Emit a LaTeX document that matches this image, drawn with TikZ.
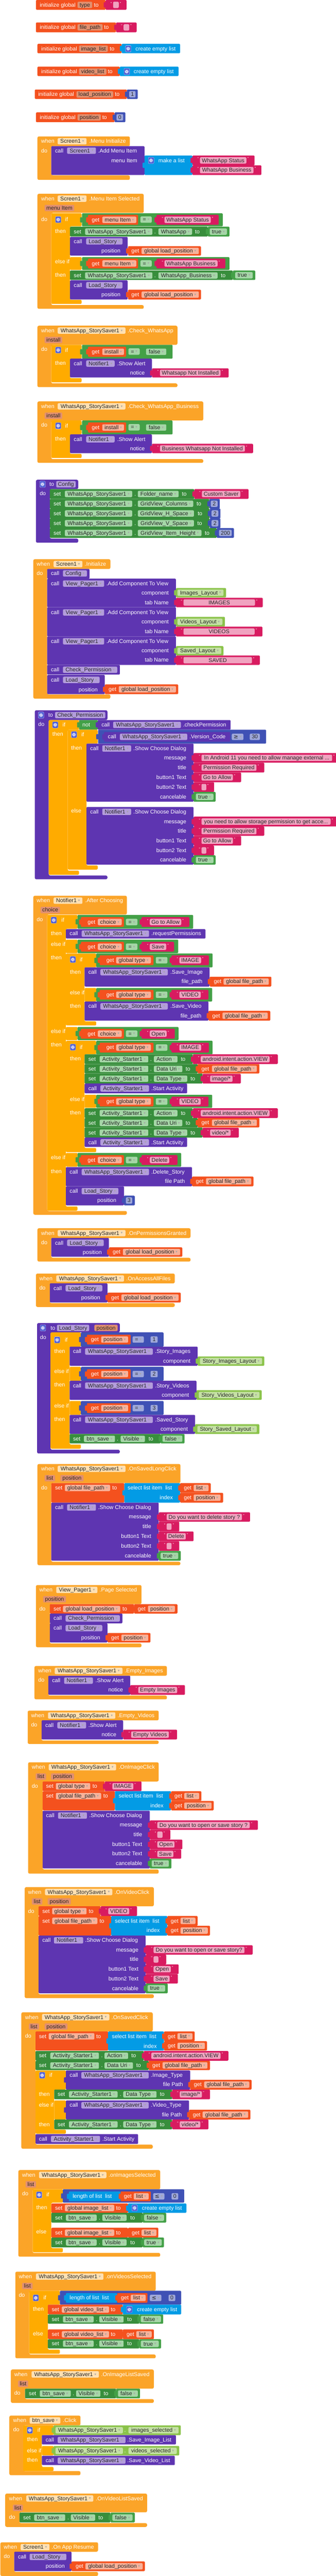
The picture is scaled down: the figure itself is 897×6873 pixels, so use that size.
\documentclass[tikz,border=0pt]{standalone}
\usepackage{fontspec}
\setmainfont{Liberation Sans}
\newfontfamily\symf{DejaVu Sans}
\definecolor{evt}{HTML}{FBA428}
\definecolor{ctl}{HTML}{FFAB00}
\definecolor{var}{HTML}{F4511E}
\definecolor{initchip}{HTML}{E2906F}
\definecolor{paramchip}{HTML}{E2906F}
\definecolor{getchip}{HTML}{F8B29A}
\definecolor{strc}{HTML}{D81B60}
\definecolor{strchip}{HTML}{F0A3C0}
\definecolor{lst}{HTML}{039BE5}
\definecolor{num}{HTML}{3F51B5}
\definecolor{numchip}{HTML}{9FA8DA}
\definecolor{proc}{HTML}{5E35B1}
\definecolor{procchip}{HTML}{B39DDB}
\definecolor{setg}{HTML}{388E3C}
\definecolor{setchip}{HTML}{A5D6A7}
\definecolor{logic}{HTML}{43A047}
\definecolor{logicchip}{HTML}{A5D6A7}
\definecolor{comp}{HTML}{8BC34A}
\definecolor{compchip}{HTML}{C5E1A5}
\definecolor{evchip}{HTML}{FFE0B2}
\definecolor{chiptext}{HTML}{262626}
\definecolor{gearc}{HTML}{4F5FD6}
\newcommand\fs{\fontsize{14.7}{17}\selectfont}
\newcounter{nd}
\tikzset{
 lab/.style={text=white,inner sep=0pt,font=\fs,text height=12pt,text depth=2pt},
 chipst/.style={rounded corners=3pt,inner sep=0pt,minimum height=17pt,text=chiptext,font=\fs,text height=12pt,text depth=2pt},
 qt/.style={text=white,inner sep=0pt,font=\fontsize{10}{10}\selectfont},
 gearst/.style={fill=gearc,draw=white!75!gearc,rounded corners=2pt,minimum width=15pt,minimum height=17pt,inner sep=0pt}
}
\newcommand\Dd{\hspace{4pt}\raisebox{3pt}{\symf\fontsize{6}{6}\selectfont\color{black!35}▼}}
\newcommand\Tx[3]{\stepcounter{nd}\node[lab,anchor=west] (t\arabic{nd}) at (#1,#2) {#3};}
\newcommand\Txr[3]{\stepcounter{nd}\node[lab,anchor=east] (t\arabic{nd}) at (#1,#2) {#3};}
\newcommand\Ch[5]{\stepcounter{nd}\node[chipst,fill=#5,minimum width={(#2-#1)*1pt},anchor=west] (c\arabic{nd}) at (#1,#3) {#4};}
\newcommand\Bk[5]{\fill[#5,rounded corners=2pt] (#1,#2) rectangle (#3,#4);}
\newcommand\Tb[3]{\fill[#3,rounded corners=1.5pt] (#1-5,#2-7) rectangle (#1+1,#2+7);}
\newcommand\Vb[5]{\pgfmathsetmacro\ymV{(#2+#4)/2}\Bk{#1}{#2}{#3}{#4}{#5}\Tb{#1}{\ymV}{#5}}
\newcommand\St[7]{\pgfmathsetmacro\ymS{(#2+#4)/2}\Vb{#1}{#2}{#3}{#4}{strc}\stepcounter{nd}\node[qt,anchor=east] (q\arabic{nd}) at (#5-3,\ymS-4) {“};\Ch{#5}{#6}{\ymS}{#7}{strchip}\stepcounter{nd}\node[qt,anchor=west] (q\arabic{nd}) at (#6+3,\ymS-4) {”};}
\newcommand\Gt[8]{\pgfmathsetmacro\ymG{(#2+#4)/2}\Vb{#1}{#2}{#3}{#4}{var}\Tx{#5}{\ymG}{get}\Ch{#6}{#7}{\ymG}{#8\Dd}{getchip}}
\newcommand\Nm[7]{\pgfmathsetmacro\ymN{(#2+#4)/2}\Vb{#1}{#2}{#3}{#4}{num}\Ch{#5}{#6}{\ymN}{#7}{numchip}}
\newcommand\Bl[7]{\pgfmathsetmacro\ymB{(#2+#4)/2}\Vb{#1}{#2}{#3}{#4}{logic}\Ch{#5}{#6}{\ymB}{#7\Dd}{logicchip}}
\newcommand\Cp[7]{\pgfmathsetmacro\ymC{(#2+#4)/2}\Vb{#1}{#2}{#3}{#4}{comp}\Ch{#5}{#6}{\ymC}{#7\Dd}{compchip}}
\newcommand\Gear[2]{\stepcounter{nd}\node[gearst,anchor=west] (g\arabic{nd}) at (#1,#2) {};\draw[white,line width=1.3pt] (#1+7.5,#2) circle (2.6pt);\draw[white,line width=1.6pt,dash pattern=on 1.2pt off 1.2pt] (#1+7.5,#2) circle (4.3pt);}
\newcommand\Ev[8]{\fill[#8,rounded corners=4pt] (#1,#4) -- (#3,#4) -- (#3,#5) -- (#2,#5) -- (#2,#6) -- (#3,#6) -- (#3,#7) -- (#1,#7) -- cycle;}
\newcommand\Cb[6]{\fill[ctl,rounded corners=3pt] (#1,#4) -- (#3,#4) -- (#3,#5) -- (#2,#5) -- (#2,#6-11) -- (#3,#6-11) -- (#3,#6) -- (#1,#6) -- cycle;}
\newcommand\WS{WhatsApp\_StorySaver1\Dd}
\newcommand\AS{Activity\_Starter1\Dd}
\begin{document}
\begin{tikzpicture}[x=1pt,y=-1pt]
\fill[white] (0,0) rectangle (897,6873);
\useasboundingbox (0,0) rectangle (897,6873);
% ---------- globals
\Bk{96}{0}{282}{26}{var}\Tx{106}{13}{initialize global}\Ch{207}{246}{13}{type}{initchip}\Tx{251}{13}{to}\St{282}{0}{338}{26}{302}{317}{}
\Bk{96}{60}{310}{86}{var}\Tx{106}{73}{initialize global}\Ch{207}{274}{73}{file\_path}{initchip}\Tx{278}{73}{to}\St{310}{60}{365}{86}{330}{345}{}
\Bk{100}{117}{325}{142}{var}\Tx{110}{130}{initialize global}\Ch{211}{288}{130}{image\_list}{initchip}\Tx{293}{130}{to}\Vb{325}{117}{481}{142}{lst}\Gear{335}{130}\Tx{362}{130}{create empty list}
\Bk{100}{178}{320}{203}{var}\Tx{110}{191}{initialize global}\Ch{211}{284}{191}{video\_list}{initchip}\Tx{288}{191}{to}\Vb{320}{178}{477}{203}{lst}\Gear{331}{191}\Tx{357}{191}{create empty list}
\Bk{93}{239}{339}{264}{var}\Tx{102}{252}{initialize global}\Ch{204}{302}{252}{load\_position}{initchip}\Tx{307}{252}{to}\Nm{339}{239}{368}{264}{345}{362}{1}
\Bk{96}{300}{306}{326}{var}\Tx{106}{313}{initialize global}\Ch{207}{269}{313}{position}{initchip}\Tx{273}{313}{to}\Nm{306}{300}{335}{326}{311}{329}{0}
% ---------- Menu Initialize
\Ev{100}{137}{347}{364}{390}{468}{480}{evt}
\Tx{110}{377}{when}\Ch{154}{231}{377}{Screen1\Dd}{evchip}\Tx{238}{377}{.Menu Initialize}
\Tx{110}{402}{do}
\Bk{137}{390}{386}{467}{proc}\Tx{147}{402}{call}\Ch{179}{256}{402}{Screen1\Dd}{procchip}\Tx{262}{402}{.Add Menu Item}
\Txr{367}{428}{menu Item}
\Vb{386}{415}{514}{467}{lst}\Gear{396}{428}\Tx{423}{428}{make a list}
\St{514}{415}{680}{441}{534}{658}{WhatsApp Status}
\St{514}{441}{698}{467}{534}{677}{WhatsApp Business}
% ---------- Menu Item Selected
\Ev{100}{137}{384}{517}{568}{814}{824}{evt}
\Tx{110}{530}{when}\Ch{154}{231}{530}{Screen1\Dd}{evchip}\Tx{238}{530}{.Menu Item Selected}
\Ch{119}{198}{555}{menu Item}{paramchip}
\Tx{110}{586}{do}
\Cb{137}{187}{218}{569}{604}{811}\Bk{187}{686}{218}{720}{ctl}
\Gear{148}{586}\Tx{174}{586}{if}
\Vb{219}{569}{595}{604}{logic}\Gt{235}{573}{369}{600}{245}{273}{364}{menu Item}\Ch{375}{405}{586}{=\Dd}{logicchip}\St{418}{573}{584}{600}{439}{563}{WhatsApp Status}
\Tx{147}{617}{then}
\Bk{187}{605}{555}{631}{setg}\Tx{197}{618}{set}\Ch{227}{407}{618}{\WS}{setchip}\Tx{412}{618}{.}\Ch{423}{513}{618}{WhatsApp\Dd}{setchip}\Tx{521}{618}{to}\Bl{555}{605}{613}{631}{560}{606}{true}
\Bk{187}{632}{341}{682}{proc}\Tx{197}{644}{call}\Ch{230}{327}{644}{Load\_Story\Dd}{procchip}\Txr{322}{669}{position}\Gt{342}{657}{537}{682}{351}{378}{531}{global load\_position}
\Tx{147}{698}{else if}
\Vb{219}{686}{613}{720}{logic}\Gt{235}{690}{369}{716}{245}{273}{364}{menu Item}\Ch{375}{405}{703}{=\Dd}{logicchip}\St{418}{690}{602}{716}{439}{581}{WhatsApp Business}
\Tx{147}{734}{then}
\Bk{187}{722}{622}{747}{setg}\Tx{197}{735}{set}\Ch{227}{407}{735}{\WS}{setchip}\Tx{412}{735}{.}\Ch{423}{581}{735}{WhatsApp\_Business\Dd}{setchip}\Tx{590}{735}{to}\Bl{622}{722}{682}{747}{628}{675}{true}
\Bk{187}{748}{341}{799}{proc}\Tx{197}{761}{call}\Ch{230}{327}{761}{Load\_Story\Dd}{procchip}\Txr{322}{786}{position}\Gt{342}{773}{537}{799}{351}{378}{531}{global load\_position}
% ---------- Check_WhatsApp
\Ev{100}{137}{474}{869}{920}{1023}{1033}{evt}
\Tx{110}{882}{when}\Ch{154}{335}{882}{\WS}{evchip}\Tx{341}{882}{.Check\_WhatsApp}
\Ch{119}{166}{907}{install}{paramchip}
\Tx{110}{932}{do}
\Cb{137}{187}{218}{920}{957}{1020}
\Gear{148}{934}\Tx{174}{934}{if}
\Vb{219}{920}{461}{957}{logic}\Gt{235}{925}{337}{952}{245}{273}{331}{install}\Ch{343}{373}{938}{=\Dd}{logicchip}\Bl{385}{925}{452}{952}{390}{444}{false}
\Tx{147}{969}{then}
\Bk{187}{957}{406}{1007}{proc}\Tx{197}{970}{call}\Ch{230}{306}{970}{Notifier1\Dd}{procchip}\Tx{313}{970}{.Show Alert}\Txr{387}{995}{notice}\St{406}{983}{611}{1007}{427}{589}{Whatsapp Not Installed}
% ---------- Check_WhatsApp_Business
\Ev{100}{137}{543}{1071}{1122}{1225}{1235}{evt}
\Tx{110}{1084}{when}\Ch{154}{335}{1084}{\WS}{evchip}\Tx{341}{1084}{.Check\_WhatsApp\_Business}
\Ch{119}{166}{1109}{install}{paramchip}
\Tx{110}{1134}{do}
\Cb{137}{187}{218}{1122}{1159}{1222}
\Gear{148}{1136}\Tx{174}{1136}{if}
\Vb{219}{1122}{461}{1159}{logic}\Gt{235}{1127}{337}{1154}{245}{273}{331}{install}\Ch{343}{373}{1140}{=\Dd}{logicchip}\Bl{385}{1127}{452}{1154}{390}{444}{false}
\Tx{147}{1171}{then}
\Bk{187}{1159}{406}{1209}{proc}\Tx{197}{1172}{call}\Ch{230}{306}{1172}{Notifier1\Dd}{procchip}\Tx{313}{1172}{.Show Alert}\Txr{387}{1197}{notice}\St{406}{1184}{676}{1209}{427}{654}{Business Whatsapp Not Installed}
% ---------- Config
\Ev{96}{133}{209}{1280}{1305}{1437}{1448}{proc}
\Gear{106}{1292}\Tx{132}{1292}{to}\Ch{150}{202}{1292}{Config}{procchip}
\Tx{106}{1317}{do}
\Bk{133}{1305}{519}{1331}{setg}\Tx{143}{1318}{set}\Ch{173}{353}{1318}{\WS}{setchip}\Tx{359}{1318}{.}\Ch{368}{477}{1318}{Folder\_name\Dd}{setchip}\Tx{486}{1318}{to}\St{519}{1305}{664}{1331}{539}{642}{Custom Saver}
\Bk{133}{1331}{559}{1357}{setg}\Tx{143}{1344}{set}\Ch{173}{353}{1344}{\WS}{setchip}\Tx{359}{1344}{.}\Ch{368}{516}{1344}{GridView\_Columns\Dd}{setchip}\Tx{525}{1344}{to}\Nm{559}{1331}{587}{1357}{563}{581}{2}
\Bk{133}{1357}{560}{1383}{setg}\Tx{143}{1370}{set}\Ch{173}{353}{1370}{\WS}{setchip}\Tx{359}{1370}{.}\Ch{368}{518}{1370}{GridView\_H\_Space\Dd}{setchip}\Tx{528}{1370}{to}\Nm{560}{1357}{589}{1383}{565}{583}{2}
\Bk{133}{1383}{560}{1409}{setg}\Tx{143}{1396}{set}\Ch{173}{353}{1396}{\WS}{setchip}\Tx{359}{1396}{.}\Ch{368}{518}{1396}{GridView\_V\_Space\Dd}{setchip}\Tx{527}{1396}{to}\Nm{560}{1383}{589}{1409}{565}{583}{2}
\Bk{133}{1409}{579}{1435}{setg}\Tx{143}{1422}{set}\Ch{173}{353}{1422}{\WS}{setchip}\Tx{359}{1422}{.}\Ch{368}{538}{1422}{GridView\_Item\_Height\Dd}{setchip}\Tx{547}{1422}{to}\Nm{579}{1409}{625}{1435}{585}{619}{200}
% ---------- Screen1.Initialize
\Ev{89}{126}{295}{1492}{1518}{1853}{1864}{evt}
\Tx{98}{1505}{when}\Ch{143}{220}{1505}{Screen1\Dd}{evchip}\Tx{226}{1505}{.Initialize}
\Tx{98}{1530}{do}
\Bk{126}{1518}{239}{1544}{proc}\Tx{136}{1530}{call}\Ch{168}{232}{1530}{Config\Dd}{procchip}
\Bk{126}{1544}{470}{1620}{proc}\Tx{136}{1557}{call}\Ch{168}{278}{1557}{View\_Pager1\Dd}{procchip}\Tx{284}{1557}{.Add Component To View}\Txr{451}{1582}{component}\Txr{451}{1608}{tab Name}
\Cp{470}{1569}{604}{1594}{474}{597}{Images\_Layout}\St{470}{1595}{702}{1620}{490}{681}{IMAGES}
\Bk{126}{1620}{470}{1698}{proc}\Tx{136}{1634}{call}\Ch{168}{278}{1634}{View\_Pager1\Dd}{procchip}\Tx{284}{1634}{.Add Component To View}\Txr{451}{1659}{component}\Txr{451}{1685}{tab Name}
\Cp{470}{1646}{601}{1672}{474}{594}{Videos\_Layout}\St{470}{1672}{701}{1698}{490}{680}{VIDEOS}
\Bk{126}{1698}{470}{1774}{proc}\Tx{136}{1711}{call}\Ch{168}{278}{1711}{View\_Pager1\Dd}{procchip}\Tx{284}{1711}{.Add Component To View}\Txr{451}{1736}{component}\Txr{451}{1761}{tab Name}
\Cp{470}{1724}{597}{1749}{474}{591}{Saved\_Layout}\St{470}{1749}{694}{1774}{490}{673}{SAVED}
\Bk{126}{1774}{320}{1800}{proc}\Tx{136}{1787}{call}\Ch{168}{313}{1787}{Check\_Permission\Dd}{procchip}
\Bk{126}{1801}{280}{1852}{proc}\Tx{136}{1814}{call}\Ch{168}{266}{1814}{Load\_Story\Dd}{procchip}\Txr{261}{1840}{position}\Gt{280}{1826}{476}{1852}{290}{317}{470}{global load\_position}
% ---------- Check_Permission
\Ev{93}{130}{287}{1895}{1921}{2336}{2346}{proc}
\Gear{102}{1908}\Tx{129}{1908}{to}\Ch{147}{281}{1908}{Check\_Permission}{procchip}
\Tx{102}{1933}{do}
\Cb{130}{181}{211}{1921}{1947}{2334}
\Gear{140}{1934}\Tx{167}{1934}{if}
\Vb{211}{1921}{261}{1947}{logic}\Tx{220}{1934}{not}
\Vb{261}{1921}{616}{1947}{proc}\Tx{271}{1934}{call}\Ch{302}{483}{1934}{\WS}{procchip}\Tx{489}{1934}{.checkPermission}
\Tx{140}{1959}{then}
\Cb{181}{231}{261}{1947}{1984}{2320}
\Gear{190}{1960}\Tx{217}{1960}{if}
\Vb{262}{1947}{711}{1984}{num}\Vb{278}{1953}{615}{1979}{proc}\Tx{288}{1966}{call}\Ch{320}{500}{1966}{\WS}{procchip}\Tx{506}{1966}{.Version\_Code}\Ch{619}{650}{1966}{{\symf ≥}\Dd}{numchip}\Nm{661}{1953}{701}{1979}{667}{694}{30}
\Tx{190}{1996}{then}
\Bk{231}{1984}{517}{2139}{proc}\Tx{241}{1997}{call}\Ch{273}{350}{1997}{Notifier1\Dd}{procchip}\Tx{356}{1997}{.Show Choose Dialog}
\Txr{498}{2022}{message}\Txr{498}{2048}{title}\Txr{498}{2074}{button1 Text}\Txr{498}{2100}{button2 Text}\Txr{498}{2126}{cancelable}
\St{517}{2009}{908}{2035}{538}{887}{In Android 11 you need to allow manage external ...}
\St{517}{2035}{706}{2061}{538}{685}{Permission Required}
\St{517}{2061}{644}{2087}{538}{622}{Go to Allow}
\St{517}{2087}{572}{2113}{538}{551}{}
\Bl{517}{2113}{576}{2139}{523}{570}{true}
\Tx{190}{2164}{else}
\Bk{231}{2153}{517}{2307}{proc}\Tx{241}{2166}{call}\Ch{273}{350}{2166}{Notifier1\Dd}{procchip}\Tx{356}{2166}{.Show Choose Dialog}
\Txr{498}{2192}{message}\Txr{498}{2217}{title}\Txr{498}{2243}{button1 Text}\Txr{498}{2269}{button2 Text}\Txr{498}{2294}{cancelable}
\St{517}{2179}{905}{2205}{538}{883}{you need to allow storage permission to get acce...}
\St{517}{2205}{706}{2230}{538}{685}{Permission Required}
\St{517}{2230}{644}{2256}{538}{622}{Go to Allow}
\St{517}{2256}{572}{2282}{538}{551}{}
\Bl{517}{2282}{576}{2307}{523}{570}{true}
% ---------- After Choosing
\Ev{89}{126}{339}{2390}{2440}{3231}{3241}{evt}
\Tx{98}{2403}{when}\Ch{143}{220}{2403}{Notifier1\Dd}{evchip}\Tx{227}{2403}{.After Choosing}
\Ch{108}{160}{2428}{choice}{paramchip}
\Tx{98}{2453}{do}
\Cb{126}{176}{207}{2441}{2478}{3230}\Bk{176}{2507}{207}{2543}{ctl}\Bk{176}{2740}{207}{2775}{ctl}\Bk{176}{3076}{207}{3113}{ctl}
\Gear{136}{2455}\Tx{164}{2455}{if}
\Vb{207}{2441}{516}{2478}{logic}\Gt{216}{2447}{331}{2473}{234}{261}{325}{choice}\Ch{336}{367}{2460}{=\Dd}{logicchip}\St{378}{2447}{506}{2473}{400}{484}{Go to Allow}
\Tx{136}{2490}{then}
\Bk{176}{2479}{549}{2504}{proc}\Tx{186}{2491}{call}\Ch{218}{398}{2491}{\WS}{procchip}\Tx{404}{2491}{.requestPermissions}
\Tx{136}{2520}{else if}
\Vb{207}{2507}{476}{2543}{logic}\Gt{216}{2513}{331}{2539}{234}{261}{325}{choice}\Ch{336}{367}{2526}{=\Dd}{logicchip}\St{378}{2513}{465}{2539}{400}{444}{Save}
\Tx{136}{2555}{then}
\Cb{176}{226}{257}{2544}{2581}{2736}\Bk{226}{2636}{257}{2672}{ctl}
\Gear{187}{2560}\Tx{213}{2560}{if}
\Vb{257}{2544}{568}{2581}{logic}\Gt{266}{2549}{410}{2575}{284}{310}{403}{global type}\Ch{416}{447}{2562}{=\Dd}{logicchip}\St{458}{2549}{558}{2575}{479}{537}{IMAGE}
\Tx{187}{2593}{then}
\Bk{226}{2581}{560}{2632}{proc}\Tx{236}{2594}{call}\Ch{268}{448}{2594}{\WS}{procchip}\Tx{455}{2594}{.Save\_Image}\Txr{541}{2619}{file\_path}\Gt{560}{2606}{725}{2632}{571}{597}{718}{global file\_path}
\Tx{187}{2648}{else if}
\Vb{257}{2636}{567}{2672}{logic}\Gt{266}{2641}{410}{2667}{284}{310}{403}{global type}\Ch{416}{447}{2654}{=\Dd}{logicchip}\St{458}{2641}{557}{2667}{479}{536}{VIDEO}
\Tx{187}{2684}{then}
\Bk{226}{2672}{557}{2723}{proc}\Tx{236}{2685}{call}\Ch{268}{448}{2685}{\WS}{procchip}\Tx{455}{2685}{.Save\_Video}\Txr{538}{2710}{file\_path}\Gt{557}{2697}{722}{2723}{567}{594}{715}{global file\_path}
\Tx{136}{2752}{else if}
\Vb{207}{2740}{477}{2775}{logic}\Gt{216}{2745}{331}{2771}{234}{261}{325}{choice}\Ch{336}{367}{2758}{=\Dd}{logicchip}\St{378}{2745}{467}{2771}{400}{445}{Open}
\Tx{136}{2788}{then}
\Cb{176}{226}{257}{2777}{2813}{3074}\Bk{226}{2921}{257}{2956}{ctl}
\Gear{187}{2794}\Tx{213}{2794}{if}
\Vb{257}{2777}{568}{2813}{logic}\Gt{266}{2782}{410}{2808}{284}{310}{403}{global type}\Ch{416}{447}{2795}{=\Dd}{logicchip}\St{458}{2782}{558}{2808}{479}{537}{IMAGE}
\Tx{187}{2825}{then}
\Bk{226}{2813}{515}{2839}{setg}\Tx{236}{2826}{set}\Ch{266}{396}{2826}{\AS}{setchip}\Tx{401}{2826}{.}\Ch{411}{474}{2826}{Action\Dd}{setchip}\Tx{483}{2826}{to}\St{515}{2813}{742}{2839}{536}{720}{android.intent.action.VIEW}
\Bk{226}{2839}{528}{2864}{setg}\Tx{236}{2852}{set}\Ch{266}{396}{2852}{\AS}{setchip}\Tx{401}{2852}{.}\Ch{411}{487}{2852}{Data Uri\Dd}{setchip}\Tx{496}{2852}{to}\Gt{528}{2839}{693}{2864}{538}{566}{686}{global file\_path}
\Bk{226}{2864}{541}{2891}{setg}\Tx{236}{2878}{set}\Ch{266}{396}{2878}{\AS}{setchip}\Tx{401}{2878}{.}\Ch{411}{500}{2878}{Data Type\Dd}{setchip}\Tx{509}{2878}{to}\St{541}{2865}{643}{2891}{561}{621}{image/*}
\Bk{226}{2891}{500}{2917}{proc}\Tx{236}{2904}{call}\Ch{268}{398}{2904}{\AS}{procchip}\Tx{404}{2904}{.Start Activity}
\Tx{187}{2933}{else if}
\Vb{257}{2921}{567}{2956}{logic}\Gt{266}{2926}{410}{2952}{284}{310}{403}{global type}\Ch{416}{447}{2939}{=\Dd}{logicchip}\St{458}{2926}{557}{2952}{479}{536}{VIDEO}
\Tx{187}{2969}{then}
\Bk{226}{2957}{515}{2983}{setg}\Tx{236}{2970}{set}\Ch{266}{396}{2970}{\AS}{setchip}\Tx{401}{2970}{.}\Ch{411}{474}{2970}{Action\Dd}{setchip}\Tx{483}{2970}{to}\St{515}{2957}{742}{2983}{536}{720}{android.intent.action.VIEW}
\Bk{226}{2983}{528}{3008}{setg}\Tx{236}{2996}{set}\Ch{266}{396}{2996}{\AS}{setchip}\Tx{401}{2996}{.}\Ch{411}{487}{2996}{Data Uri\Dd}{setchip}\Tx{496}{2996}{to}\Gt{528}{2983}{693}{3008}{538}{566}{686}{global file\_path}
\Bk{226}{3008}{541}{3035}{setg}\Tx{236}{3022}{set}\Ch{266}{396}{3022}{\AS}{setchip}\Tx{401}{3022}{.}\Ch{411}{500}{3022}{Data Type\Dd}{setchip}\Tx{509}{3022}{to}\St{541}{3009}{638}{3035}{561}{616}{video/*}
\Bk{226}{3035}{500}{3060}{proc}\Tx{236}{3048}{call}\Ch{268}{398}{3048}{\AS}{procchip}\Tx{404}{3048}{.Start Activity}
\Tx{136}{3089}{else if}
\Vb{207}{3076}{484}{3113}{logic}\Gt{216}{3082}{331}{3108}{234}{261}{325}{choice}\Ch{336}{367}{3095}{=\Dd}{logicchip}\St{378}{3082}{474}{3108}{400}{452}{Delete}
\Tx{136}{3126}{then}
\Bk{176}{3114}{513}{3165}{proc}\Tx{186}{3127}{call}\Ch{218}{398}{3127}{\WS}{procchip}\Tx{404}{3127}{.Delete\_Story}\Txr{494}{3152}{file Path}\Gt{513}{3139}{677}{3165}{523}{550}{671}{global file\_path}
\Bk{176}{3165}{331}{3216}{proc}\Tx{186}{3178}{call}\Ch{218}{316}{3178}{Load\_Story\Dd}{procchip}\Txr{311}{3202}{position}\Nm{331}{3190}{360}{3216}{336}{353}{3}
% ---------- OnPermissionsGranted
\Ev{100}{137}{509}{3277}{3303}{3356}{3366}{evt}
\Tx{110}{3290}{when}\Ch{154}{335}{3290}{\WS}{evchip}\Tx{341}{3290}{.OnPermissionsGranted}
\Tx{110}{3315}{do}
\Bk{137}{3303}{291}{3353}{proc}\Tx{147}{3316}{call}\Ch{179}{277}{3316}{Load\_Story\Dd}{procchip}\Txr{272}{3341}{position}\Gt{291}{3328}{487}{3353}{301}{328}{481}{global load\_position}
% ---------- OnAccessAllFiles
\Ev{96}{133}{467}{3398}{3424}{3477}{3487}{evt}
\Tx{105}{3411}{when}\Ch{150}{331}{3411}{\WS}{evchip}\Tx{337}{3411}{.OnAccessAllFiles}
\Tx{105}{3436}{do}
\Bk{133}{3424}{287}{3475}{proc}\Tx{143}{3437}{call}\Ch{175}{273}{3437}{Load\_Story\Dd}{procchip}\Txr{268}{3462}{position}\Gt{287}{3449}{483}{3475}{297}{324}{477}{global load\_position}
% ---------- Load_Story procedure
\Ev{99}{135}{320}{3530}{3555}{3868}{3878}{proc}
\Gear{107}{3543}\Tx{135}{3543}{to}\Ch{152}{238}{3543}{Load\_Story}{procchip}\Ch{252}{314}{3543}{position}{paramchip}
\Tx{107}{3568}{do}
\Cb{135}{186}{216}{3555}{3593}{3865}\Bk{186}{3647}{216}{3684}{ctl}\Bk{186}{3738}{216}{3775}{ctl}
\Gear{145}{3575}\Tx{173}{3575}{if}
\Vb{216}{3555}{437}{3593}{num}\Gt{232}{3561}{349}{3587}{243}{270}{342}{position}\Ch{354}{384}{3574}{=\Dd}{numchip}\Nm{396}{3561}{428}{3587}{402}{421}{1}
\Tx{145}{3605}{then}
\Bk{186}{3593}{528}{3644}{proc}\Tx{195}{3606}{call}\Ch{227}{408}{3606}{\WS}{procchip}\Tx{414}{3606}{.Story\_Images}\Txr{509}{3631}{component}\Cp{528}{3619}{706}{3644}{534}{700}{Story\_Images\_Layout}
\Tx{145}{3659}{else if}
\Vb{216}{3647}{437}{3684}{num}\Gt{232}{3653}{349}{3679}{243}{270}{342}{position}\Ch{354}{384}{3666}{=\Dd}{numchip}\Nm{396}{3653}{428}{3679}{402}{421}{2}
\Tx{145}{3695}{then}
\Bk{186}{3684}{525}{3735}{proc}\Tx{195}{3697}{call}\Ch{227}{408}{3697}{\WS}{procchip}\Tx{414}{3697}{.Story\_Videos}\Txr{505}{3722}{component}\Cp{525}{3709}{699}{3735}{531}{693}{Story\_Videos\_Layout}
\Tx{145}{3751}{else if}
\Vb{216}{3738}{437}{3775}{num}\Gt{232}{3744}{349}{3770}{243}{270}{342}{position}\Ch{354}{384}{3757}{=\Dd}{numchip}\Nm{396}{3744}{428}{3770}{402}{421}{3}
\Tx{145}{3787}{then}
\Bk{186}{3775}{521}{3826}{proc}\Tx{195}{3788}{call}\Ch{227}{408}{3788}{\WS}{procchip}\Tx{414}{3788}{.Saved\_Story}\Txr{502}{3813}{component}\Cp{521}{3800}{693}{3826}{527}{686}{Story\_Saved\_Layout}
\Bk{186}{3826}{429}{3851}{setg}\Tx{195}{3839}{set}\Ch{224}{307}{3839}{btn\_save\Dd}{setchip}\Tx{312}{3839}{.}\Ch{322}{387}{3839}{Visible\Dd}{setchip}\Tx{397}{3839}{to}\Bl{429}{3826}{493}{3851}{434}{487}{false}
% ---------- OnSavedLongClick
\Ev{100}{137}{482}{3906}{3957}{4167}{4176}{evt}
\Tx{110}{3919}{when}\Ch{154}{335}{3919}{\WS}{evchip}\Tx{341}{3919}{.OnSavedLongClick}
\Ch{119}{147}{3944}{list}{paramchip}\Ch{161}{223}{3944}{position}{paramchip}
\Tx{110}{3969}{do}
\Bk{137}{3957}{332}{4009}{var}\Tx{147}{3970}{set}\Ch{173}{294}{3970}{global file\_path\Dd}{getchip}\Tx{300}{3970}{to}
\Vb{332}{3957}{481}{4009}{lst}\Tx{341}{3970}{select list item\ \ list}\Txr{462}{3996}{index}
\Gt{481}{3957}{563}{3983}{491}{517}{557}{list}\Gt{481}{3983}{596}{4009}{491}{517}{589}{position}
\Bk{137}{4009}{424}{4164}{proc}\Tx{147}{4022}{call}\Ch{179}{256}{4022}{Notifier1\Dd}{procchip}\Tx{262}{4022}{.Show Choose Dialog}
\Txr{404}{4047}{message}\Txr{404}{4073}{title}\Txr{404}{4099}{button1 Text}\Txr{404}{4125}{button2 Text}\Txr{404}{4151}{cancelable}
\St{424}{4035}{668}{4060}{445}{646}{Do you want to delete story ?}
\St{424}{4060}{479}{4086}{445}{458}{}
\St{424}{4086}{517}{4112}{445}{496}{Delete}
\St{424}{4112}{479}{4138}{445}{458}{}
\Bl{424}{4138}{483}{4164}{429}{476}{true}
% ---------- Page Selected
\Ev{96}{133}{378}{4229}{4280}{4385}{4395}{evt}
\Tx{105}{4242}{when}\Ch{150}{260}{4242}{View\_Pager1\Dd}{evchip}\Tx{266}{4242}{.Page Selected}
\Ch{115}{176}{4267}{position}{paramchip}
\Tx{105}{4292}{do}
\Bk{133}{4280}{358}{4305}{var}\Tx{143}{4293}{set}\Ch{168}{321}{4293}{global load\_position\Dd}{getchip}\Tx{327}{4293}{to}\Gt{358}{4280}{474}{4305}{368}{395}{467}{position}
\Bk{133}{4305}{327}{4331}{proc}\Tx{143}{4318}{call}\Ch{175}{320}{4318}{Check\_Permission\Dd}{procchip}
\Bk{133}{4331}{287}{4382}{proc}\Tx{143}{4344}{call}\Ch{175}{273}{4344}{Load\_Story\Dd}{procchip}\Txr{268}{4370}{position}\Gt{287}{4357}{402}{4382}{297}{324}{396}{position}
% ---------- Empty_Images
\Ev{92}{129}{446}{4445}{4471}{4524}{4534}{evt}
\Tx{102}{4458}{when}\Ch{146}{327}{4458}{\WS}{evchip}\Tx{333}{4458}{.Empty\_Images}
\Tx{102}{4483}{do}
\Bk{129}{4471}{348}{4522}{proc}\Tx{139}{4484}{call}\Ch{171}{248}{4484}{Notifier1\Dd}{procchip}\Tx{255}{4484}{.Show Alert}\Txr{329}{4509}{notice}\St{348}{4496}{494}{4522}{369}{473}{Empty Images}
% ---------- Empty_Videos
\Ev{74}{111}{424}{4564}{4590}{4644}{4653}{evt}
\Tx{83}{4577}{when}\Ch{128}{308}{4577}{\WS}{evchip}\Tx{314}{4577}{.Empty\_Videos}
\Tx{83}{4602}{do}
\Bk{111}{4590}{329}{4641}{proc}\Tx{121}{4603}{call}\Ch{153}{230}{4603}{Notifier1\Dd}{procchip}\Tx{236}{4603}{.Show Alert}\Txr{311}{4628}{notice}\St{329}{4615}{473}{4641}{350}{451}{Empty Videos}
% ---------- OnImageClick
\Ev{75}{114}{424}{4702}{4753}{4988}{4999}{evt}
\Tx{85}{4715}{when}\Ch{130}{310}{4715}{\WS}{evchip}\Tx{317}{4715}{.OnImageClick}
\Ch{95}{123}{4740}{list}{paramchip}\Ch{136}{198}{4740}{position}{paramchip}
\Tx{85}{4765}{do}
\Bk{114}{4753}{280}{4779}{var}\Tx{123}{4766}{set}\Ch{149}{241}{4766}{global type\Dd}{getchip}\Tx{247}{4766}{to}\St{280}{4753}{378}{4779}{300}{356}{IMAGE}
\Bk{114}{4779}{307}{4830}{var}\Tx{123}{4792}{set}\Ch{149}{270}{4792}{global file\_path\Dd}{getchip}\Tx{276}{4792}{to}
\Vb{307}{4779}{457}{4830}{lst}\Tx{317}{4792}{select list item\ \ list}\Txr{437}{4818}{index}
\Gt{457}{4779}{538}{4805}{466}{492}{532}{list}\Gt{457}{4805}{571}{4830}{466}{492}{565}{position}
\Bk{114}{4831}{400}{4985}{proc}\Tx{123}{4844}{call}\Ch{155}{232}{4844}{Notifier1\Dd}{procchip}\Tx{238}{4844}{.Show Choose Dialog}
\Txr{380}{4869}{message}\Txr{380}{4895}{title}\Txr{380}{4921}{button1 Text}\Txr{380}{4946}{button2 Text}\Txr{380}{4972}{cancelable}
\St{400}{4857}{689}{4882}{420}{667}{Do you want to open or save story ?}
\St{400}{4882}{455}{4908}{420}{434}{}
\St{400}{4908}{487}{4934}{420}{466}{Open}
\St{400}{4934}{484}{4959}{420}{463}{Save}
\Bl{400}{4959}{458}{4985}{405}{451}{true}
% ---------- OnVideoClick
\Ev{66}{103}{411}{5035}{5086}{5321}{5331}{evt}
\Tx{75}{5048}{when}\Ch{120}{300}{5048}{\WS}{evchip}\Tx{306}{5048}{.OnVideoClick}
\Ch{85}{113}{5073}{list}{paramchip}\Ch{127}{189}{5073}{position}{paramchip}
\Tx{75}{5099}{do}
\Bk{103}{5086}{269}{5112}{var}\Tx{113}{5099}{set}\Ch{139}{231}{5099}{global type\Dd}{getchip}\Tx{237}{5099}{to}\St{269}{5086}{366}{5112}{289}{345}{VIDEO}
\Bk{103}{5112}{297}{5164}{var}\Tx{113}{5125}{set}\Ch{139}{260}{5125}{global file\_path\Dd}{getchip}\Tx{266}{5125}{to}
\Vb{297}{5112}{447}{5164}{lst}\Tx{307}{5125}{select list item\ \ list}\Txr{427}{5151}{index}
\Gt{447}{5112}{528}{5138}{456}{482}{522}{list}\Gt{447}{5138}{561}{5164}{456}{482}{555}{position}
\Bk{103}{5164}{389}{5318}{proc}\Tx{113}{5177}{call}\Ch{144}{222}{5177}{Notifier1\Dd}{procchip}\Tx{227}{5177}{.Show Choose Dialog}
\Txr{370}{5202}{message}\Txr{370}{5228}{title}\Txr{370}{5254}{button1 Text}\Txr{370}{5280}{button2 Text}\Txr{370}{5306}{cancelable}
\St{389}{5190}{675}{5215}{410}{653}{Do you want to open or save story?}
\St{389}{5215}{444}{5241}{410}{423}{}
\St{389}{5241}{477}{5267}{410}{456}{Open}
\St{389}{5267}{475}{5292}{410}{453}{Save}
\Bl{389}{5292}{448}{5318}{394}{441}{true}
% ---------- OnSavedClick
\Ev{57}{95}{408}{5369}{5420}{5722}{5733}{evt}
\Tx{67}{5382}{when}\Ch{112}{292}{5382}{\WS}{evchip}\Tx{298}{5382}{.OnSavedClick}
\Ch{77}{104}{5407}{list}{paramchip}\Ch{119}{180}{5407}{position}{paramchip}
\Tx{67}{5432}{do}
\Bk{95}{5420}{289}{5471}{var}\Tx{104}{5433}{set}\Ch{130}{252}{5433}{global file\_path\Dd}{getchip}\Tx{257}{5433}{to}
\Vb{289}{5420}{438}{5471}{lst}\Tx{299}{5433}{select list item\ \ list}\Txr{419}{5459}{index}
\Gt{438}{5420}{520}{5446}{448}{474}{514}{list}\Gt{438}{5446}{553}{5471}{448}{474}{547}{position}
\Bk{95}{5472}{384}{5498}{setg}\Tx{104}{5485}{set}\Ch{134}{264}{5485}{\AS}{setchip}\Tx{270}{5485}{.}\Ch{279}{342}{5485}{Action\Dd}{setchip}\Tx{351}{5485}{to}\St{384}{5472}{610}{5498}{404}{589}{android.intent.action.VIEW}
\Bk{95}{5498}{397}{5523}{setg}\Tx{104}{5511}{set}\Ch{134}{264}{5511}{\AS}{setchip}\Tx{270}{5511}{.}\Ch{279}{355}{5511}{Data Uri\Dd}{setchip}\Tx{364}{5511}{to}\Gt{397}{5498}{561}{5523}{407}{434}{554}{global file\_path}
\Cb{95}{145}{176}{5524}{5575}{5693}\Bk{145}{5604}{176}{5655}{ctl}
\Gear{105}{5537}\Tx{132}{5537}{if}
\Vb{176}{5524}{508}{5575}{proc}\Tx{186}{5537}{call}\Ch{217}{397}{5537}{\WS}{procchip}\Tx{403}{5537}{.Image\_Type}\Txr{489}{5562}{file Path}\Gt{508}{5549}{672}{5575}{518}{545}{666}{global file\_path}
\Tx{104}{5588}{then}
\Bk{145}{5575}{460}{5601}{setg}\Tx{154}{5588}{set}\Ch{184}{314}{5588}{\AS}{setchip}\Tx{320}{5588}{.}\Ch{329}{418}{5588}{Data Type\Dd}{setchip}\Tx{427}{5588}{to}\St{460}{5575}{561}{5601}{480}{539}{image/*}
\Tx{104}{5617}{else if}
\Vb{176}{5604}{505}{5655}{proc}\Tx{186}{5617}{call}\Ch{217}{397}{5617}{\WS}{procchip}\Tx{403}{5617}{.Video\_Type}\Txr{486}{5642}{file Path}\Gt{505}{5629}{669}{5655}{515}{541}{663}{global file\_path}
\Tx{104}{5668}{then}
\Bk{145}{5655}{460}{5681}{setg}\Tx{154}{5668}{set}\Ch{184}{314}{5668}{\AS}{setchip}\Tx{320}{5668}{.}\Ch{329}{418}{5668}{Data Type\Dd}{setchip}\Tx{427}{5668}{to}\St{460}{5655}{557}{5681}{480}{535}{video/*}
\Bk{95}{5694}{369}{5720}{proc}\Tx{104}{5707}{call}\Ch{136}{267}{5707}{\AS}{procchip}\Tx{273}{5707}{.Start Activity}
% ---------- onImagesSelected
\Ev{49}{87}{428}{5790}{5841}{6011}{6021}{evt}
\Tx{59}{5803}{when}\Ch{104}{284}{5803}{\WS}{evchip}\Tx{290}{5803}{.onImagesSelected}
\Ch{68}{96}{5828}{list}{paramchip}
\Tx{59}{5853}{do}
\Cb{87}{137}{168}{5841}{5877}{6009}
\Gear{97}{5856}\Tx{124}{5856}{if}
\Vb{168}{5841}{492}{5877}{num}\Vb{184}{5847}{322}{5873}{lst}\Tx{194}{5860}{length of list\ \ list}\Gt{322}{5847}{403}{5873}{331}{357}{397}{list}\Ch{409}{439}{5860}{{\symf ≤}\Dd}{numchip}\Nm{454}{5847}{481}{5873}{458}{476}{0}
\Tx{97}{5890}{then}
\Bk{137}{5879}{342}{5904}{var}\Tx{147}{5891}{set}\Ch{173}{305}{5891}{global image\_list\Dd}{getchip}\Tx{310}{5891}{to}\Vb{342}{5879}{498}{5904}{lst}\Gear{352}{5891}\Tx{379}{5891}{create empty list}
\Bk{137}{5904}{381}{5930}{setg}\Tx{147}{5917}{set}\Ch{176}{258}{5917}{btn\_save\Dd}{setchip}\Tx{264}{5917}{.}\Ch{273}{338}{5917}{Visible\Dd}{setchip}\Tx{348}{5917}{to}\Bl{381}{5904}{444}{5930}{385}{438}{false}
\Tx{97}{5955}{else}
\Bk{137}{5944}{342}{5970}{var}\Tx{147}{5957}{set}\Ch{173}{305}{5957}{global image\_list\Dd}{getchip}\Tx{310}{5957}{to}\Gt{342}{5944}{423}{5970}{352}{378}{418}{list}
\Bk{137}{5970}{381}{5996}{setg}\Tx{147}{5983}{set}\Ch{176}{258}{5983}{btn\_save\Dd}{setchip}\Tx{264}{5983}{.}\Ch{273}{338}{5983}{Visible\Dd}{setchip}\Tx{348}{5983}{to}\Bl{381}{5970}{438}{5996}{385}{432}{true}
% ---------- onVideosSelected
\Ev{41}{78}{416}{6061}{6112}{6282}{6292}{evt}
\Tx{50}{6074}{when}\Ch{96}{276}{6074}{\WS}{evchip}\Tx{282}{6074}{.onVideosSelected}
\Ch{59}{87}{6099}{list}{paramchip}
\Tx{50}{6124}{do}
\Cb{78}{128}{160}{6112}{6149}{6280}
\Gear{88}{6131}\Tx{116}{6131}{if}
\Vb{160}{6112}{484}{6149}{num}\Vb{176}{6118}{313}{6144}{lst}\Tx{186}{6131}{length of list\ \ list}\Gt{313}{6118}{394}{6144}{323}{349}{389}{list}\Ch{400}{431}{6131}{{\symf ≤}\Dd}{numchip}\Nm{445}{6118}{474}{6144}{450}{468}{0}
\Tx{88}{6161}{then}
\Bk{128}{6149}{328}{6175}{var}\Tx{138}{6162}{set}\Ch{165}{291}{6162}{global video\_list\Dd}{getchip}\Tx{296}{6162}{to}\Vb{328}{6149}{484}{6175}{lst}\Gear{338}{6162}\Tx{366}{6162}{create empty list}
\Bk{128}{6175}{372}{6200}{setg}\Tx{138}{6188}{set}\Ch{168}{250}{6188}{btn\_save\Dd}{setchip}\Tx{256}{6188}{.}\Ch{265}{330}{6188}{Visible\Dd}{setchip}\Tx{340}{6188}{to}\Bl{372}{6175}{436}{6200}{376}{430}{false}
\Tx{88}{6226}{else}
\Bk{128}{6215}{328}{6241}{var}\Tx{138}{6228}{set}\Ch{165}{291}{6228}{global video\_list\Dd}{getchip}\Tx{296}{6228}{to}\Gt{328}{6215}{411}{6241}{338}{364}{405}{list}
\Bk{128}{6241}{372}{6266}{setg}\Tx{138}{6253}{set}\Ch{168}{250}{6253}{btn\_save\Dd}{setchip}\Tx{256}{6253}{.}\Ch{265}{330}{6253}{Visible\Dd}{setchip}\Tx{340}{6253}{to}\Bl{372}{6241}{430}{6266}{376}{424}{true}
% ---------- OnImageListSaved
\Ev{29}{67}{411}{6322}{6373}{6401}{6411}{evt}
\Tx{38}{6335}{when}\Ch{84}{264}{6335}{\WS}{evchip}\Tx{270}{6335}{.OnImageListSaved}
\Ch{48}{75}{6360}{list}{paramchip}
\Tx{38}{6385}{do}
\Bk{67}{6373}{310}{6399}{setg}\Tx{77}{6386}{set}\Ch{106}{189}{6386}{btn\_save\Dd}{setchip}\Tx{194}{6386}{.}\Ch{203}{268}{6386}{Visible\Dd}{setchip}\Tx{277}{6386}{to}\Bl{310}{6373}{374}{6399}{315}{368}{false}
% ---------- btn_save.Click
\Ev{25}{62}{215}{6445}{6471}{6593}{6604}{evt}
\Tx{35}{6458}{when}\Ch{79}{161}{6458}{btn\_save\Dd}{evchip}\Tx{168}{6458}{.Click}
\Tx{35}{6483}{do}
\Cb{62}{112}{143}{6471}{6497}{6593}\Bk{112}{6526}{143}{6551}{ctl}
\Gear{72}{6484}\Tx{100}{6484}{if}
\Vb{143}{6471}{483}{6497}{comp}\Ch{148}{328}{6484}{\WS}{compchip}\Tx{332}{6484}{.}\Ch{343}{477}{6484}{images\_selected\Dd}{compchip}
\Tx{72}{6509}{then}
\Bk{112}{6497}{470}{6522}{proc}\Tx{122}{6510}{call}\Ch{154}{335}{6510}{\WS}{procchip}\Tx{340}{6510}{.Save\_Image\_List}
\Tx{72}{6539}{else if}
\Vb{143}{6526}{479}{6551}{comp}\Ch{148}{328}{6539}{\WS}{compchip}\Tx{332}{6539}{.}\Ch{343}{472}{6539}{videos\_selected\Dd}{compchip}
\Tx{72}{6564}{then}
\Bk{112}{6552}{467}{6577}{proc}\Tx{122}{6565}{call}\Ch{154}{335}{6565}{\WS}{procchip}\Tx{340}{6565}{.Save\_Video\_List}
% ---------- OnVideoListSaved
\Ev{14}{52}{393}{6653}{6703}{6732}{6742}{evt}
\Tx{24}{6666}{when}\Ch{70}{249}{6666}{\WS}{evchip}\Tx{256}{6666}{.OnVideoListSaved}
\Ch{34}{61}{6691}{list}{paramchip}
\Tx{24}{6716}{do}
\Bk{52}{6704}{295}{6730}{setg}\Tx{62}{6717}{set}\Ch{91}{174}{6717}{btn\_save\Dd}{setchip}\Tx{180}{6717}{.}\Ch{189}{254}{6717}{Visible\Dd}{setchip}\Tx{263}{6717}{to}\Bl{295}{6704}{360}{6730}{300}{354}{false}
% ---------- On App Resume
\Ev{1}{38}{262}{6783}{6808}{6862}{6873}{evt}
\Tx{10}{6796}{when}\Ch{55}{132}{6796}{Screen1\Dd}{evchip}\Tx{138}{6796}{.On App Resume}
\Tx{10}{6821}{do}
\Bk{38}{6808}{191}{6860}{proc}\Tx{48}{6822}{call}\Ch{79}{177}{6822}{Load\_Story\Dd}{procchip}\Txr{173}{6847}{position}\Gt{191}{6834}{387}{6860}{202}{228}{381}{global load\_position}
\end{tikzpicture}
\end{document}
